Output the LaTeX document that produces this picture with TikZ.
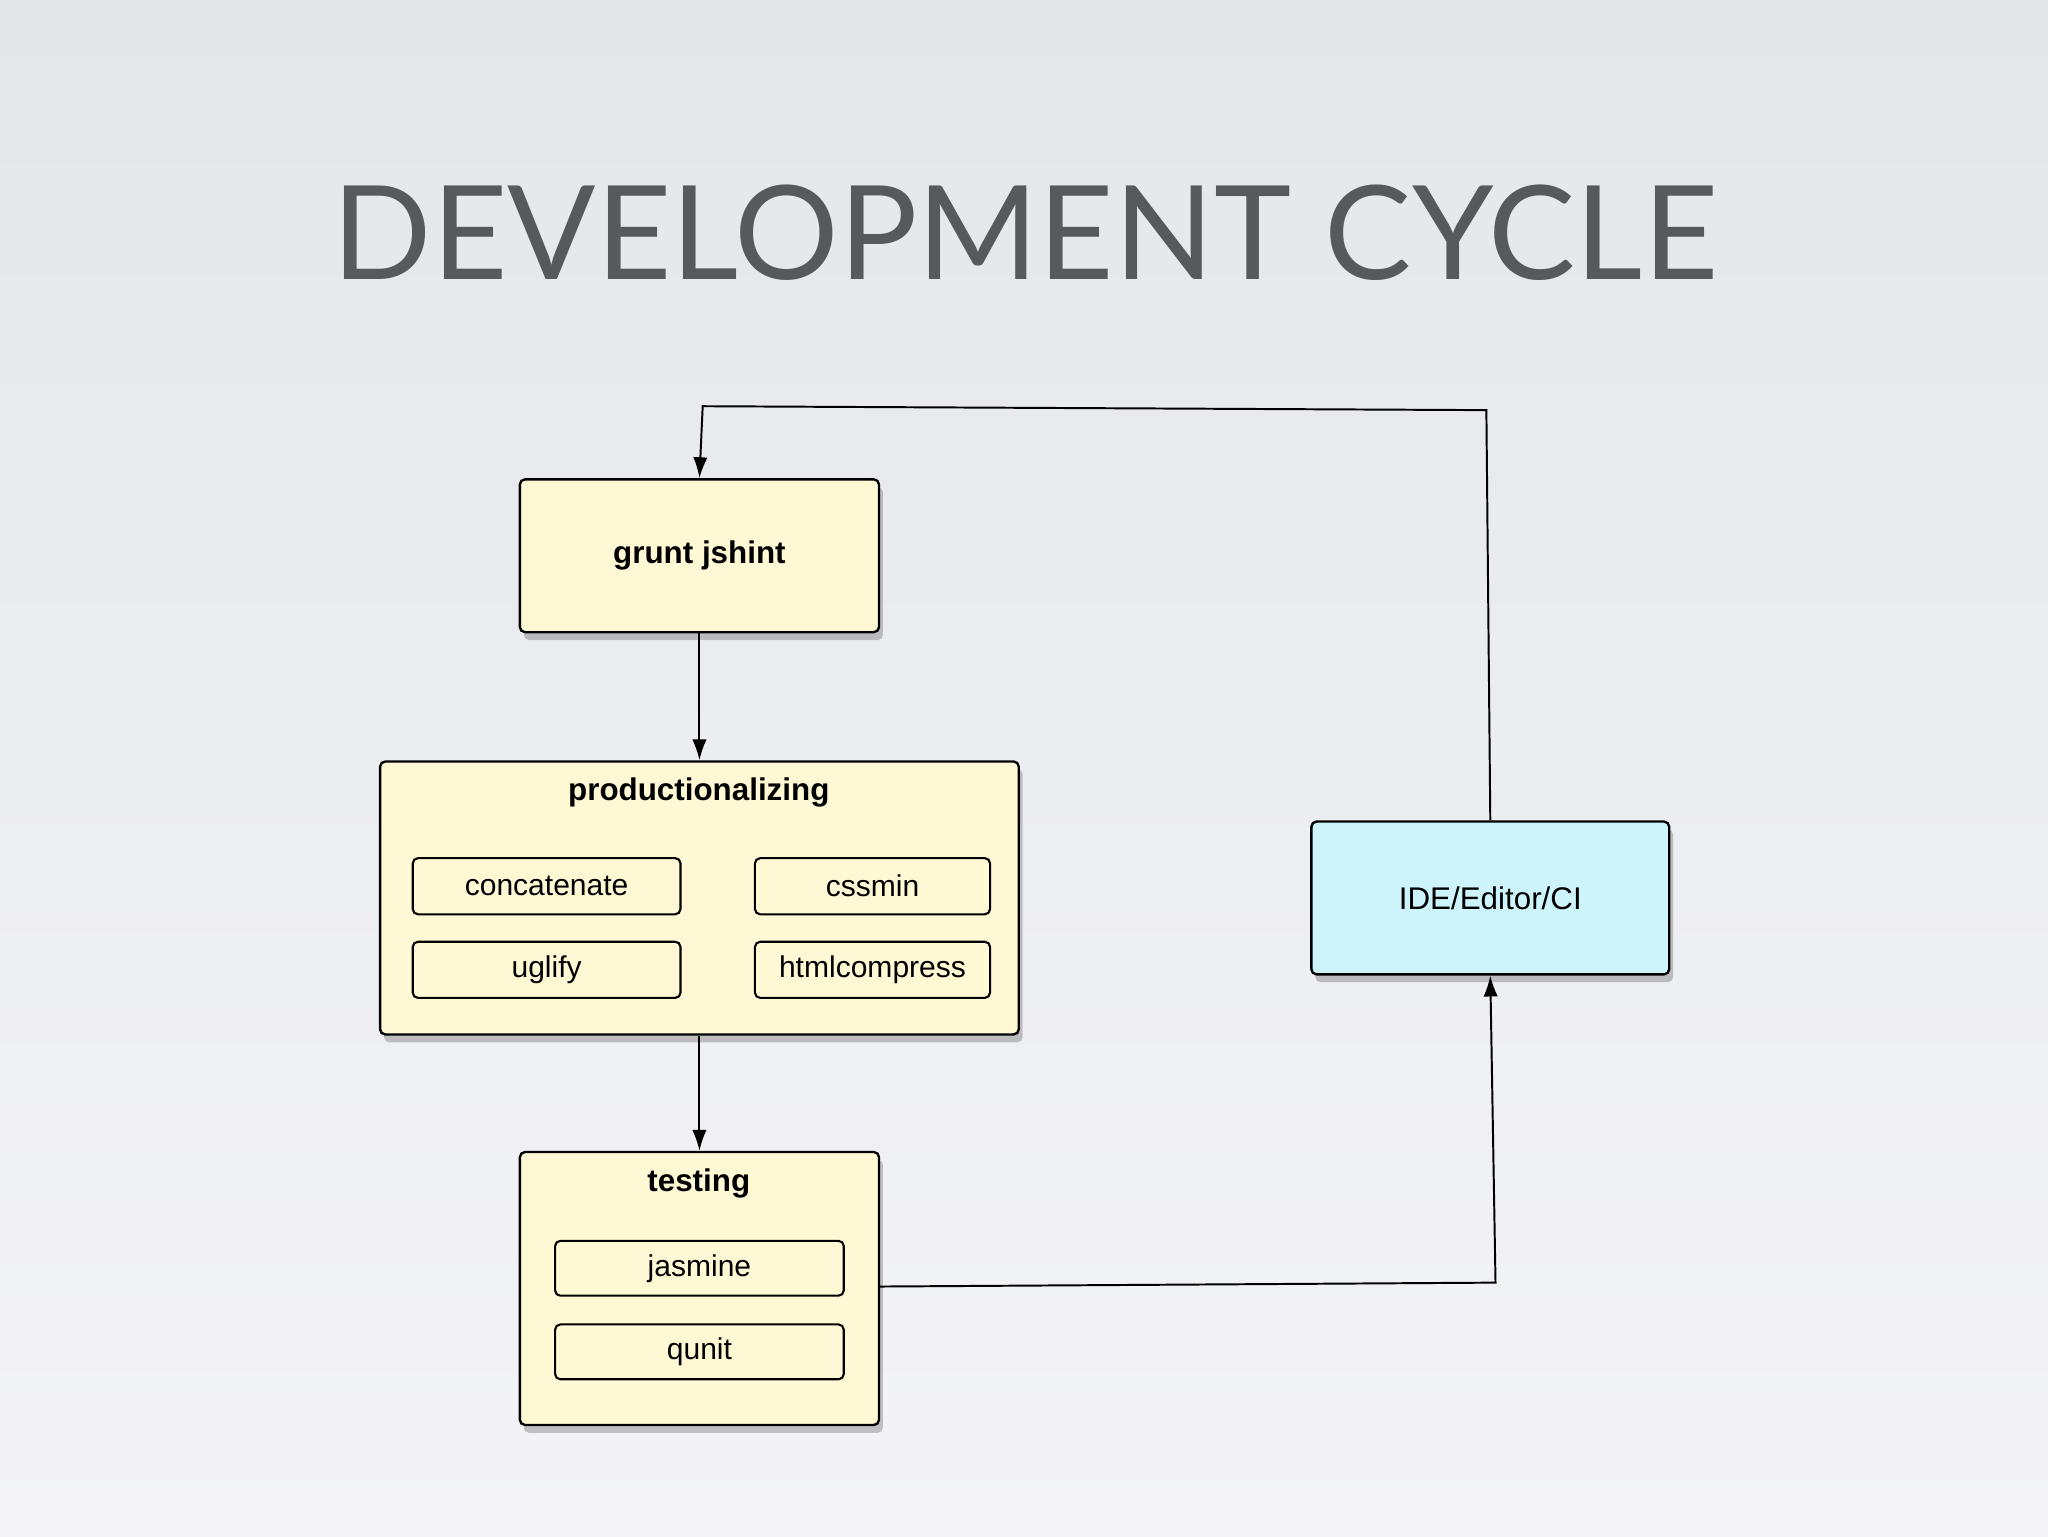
\documentclass[tikz,border=0pt]{standalone}
\usepackage{fontspec}
\setmainfont{Liberation Sans}
\newfontfamily\titlefont{Lato}
\usetikzlibrary{arrows.meta,shadows}
\definecolor{boxy}{HTML}{FFF8D4}
\definecolor{boxc}{HTML}{CDF4FB}
\definecolor{titlegray}{HTML}{58595C}
\begin{document}
\begin{tikzpicture}[x=1pt,y=-1pt,
  bigbox/.style={draw=black,line width=1.8pt,rounded corners=4pt,fill=boxy,drop shadow={shadow xshift=3pt,shadow yshift=-6pt,opacity=0.45}},
  smallbox/.style={draw=black,line width=1.6pt,rounded corners=4pt,fill=boxy,font=\fontsize{23}{27}\selectfont},
  conn/.style={line width=1.5pt,-{Latex[length=16pt,width=11pt]}}]
\shade[top color={rgb,255:red,228;green,230;blue,234},bottom color={rgb,255:red,244;green,244;blue,248}] (0,0) rectangle (1568,1176);
\useasboundingbox (0,0) rectangle (1568,1176);
\node[titlegray,font=\titlefont\fontsize{100}{112}\selectfont] (title) at (785,178) {DEVELOPMENT CYCLE};
\node[bigbox,minimum width=275pt,minimum height=117pt,font=\bfseries\fontsize{24}{28}\selectfont] (grunt) at (535.5,425.5) {grunt jshint};
\node[bigbox,minimum width=489pt,minimum height=209pt] (prod) at (535.5,687.5) {};
\node[font=\bfseries\fontsize{24}{28}\selectfont] (prodt) at (535,607) {productionalizing};
\node[smallbox,minimum width=205pt,minimum height=43pt] (concat) at (418.5,678.5) {concatenate};
\node[smallbox,minimum width=180pt,minimum height=43pt] (cssmin) at (668,678.5) {cssmin};
\node[smallbox,minimum width=205pt,minimum height=43pt] (uglify) at (418.5,742.5) {uglify};
\node[smallbox,minimum width=180pt,minimum height=43pt] (html) at (668,742.5) {htmlcompress};
\node[bigbox,minimum width=275pt,minimum height=209pt] (test) at (535.5,986.5) {};
\node[font=\bfseries\fontsize{24}{28}\selectfont] (testt) at (535,906) {testing};
\node[smallbox,minimum width=221pt,minimum height=42pt] (jas) at (535.5,971) {jasmine};
\node[smallbox,minimum width=221pt,minimum height=42pt] (qunit) at (535.5,1035) {qunit};
\node[bigbox,fill=boxc,minimum width=274pt,minimum height=117pt,font=\fontsize{24}{28}\selectfont] (ide) at (1141,687.5) {IDE/Editor/CI};
\coordinate (c1) at (1145,982);
\coordinate (c2) at (1138,314);
\coordinate (c3) at (538,311);
\draw[conn] (grunt.south) -- (prod.north);
\draw[conn] (prod.south) -- (test.north);
\draw[conn] (673,985) -- (c1) -- (ide.south);
\draw[conn] (ide.north) -- (c2) -- (c3) -- (grunt.north);
\end{tikzpicture}
\end{document}
